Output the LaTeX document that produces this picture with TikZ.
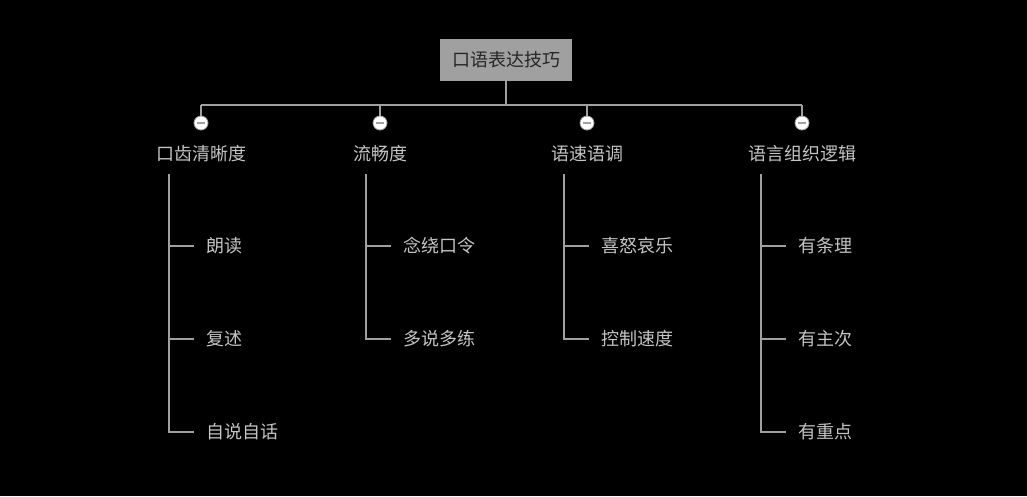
\documentclass[tikz,border=0pt]{standalone}
\usepackage{fontspec}
\newfontfamily\cjk{Noto Sans CJK SC}
\begin{document}
\begin{tikzpicture}[x=1pt,y=-1pt,
  ln/.style={draw=lg,line width=1.1pt},
  lbl/.style={text=tc,font=\cjk\fontsize{18}{21}\selectfont,inner sep=0pt},
  tog/.style={circle,draw=lg,fill=white,minimum size=14pt,inner sep=0pt,line width=0.8pt}]
\definecolor{lg}{HTML}{A0A0A0}
\definecolor{tc}{HTML}{C4C4C4}
\fill[black] (0,0) rectangle (1027,496);
\useasboundingbox (0,0) rectangle (1027,496);
\node[fill=lg,minimum width=132pt,minimum height=42pt,inner sep=0pt,font=\cjk\fontsize{18}{21}\selectfont,text=black!85] (root) at (506,60) {口语表达技巧};
\coordinate (bar) at (506,105);
\draw[ln] (root.south) -- (bar);
\draw[ln] (201,105) -- (802,105);
\foreach \n/\x/\t/\vx in {a/201/口齿清晰度/169,b/380/流畅度/366,c/587/语速语调/564,d/802/语言组织逻辑/761}{
  \coordinate (\n top) at (\x,105);
  \node[tog] (\n t) at (\x,123) {};
  \draw[ln] (\n top) -- (\n t.north);
  \draw[lg,line width=1.5pt] ([xshift=-4pt]\n t.center) -- ([xshift=4pt]\n t.center);
  \node[lbl] (\n) at (\x,154) {\t};
  \coordinate (\n v) at (\vx,174);
}
\foreach \p/\vx/\c/\y [count=\i] in {a/169/朗读/246,a/169/复述/339,a/169/自说自话/432,b/366/念绕口令/246,b/366/多说多练/339,c/564/喜怒哀乐/246,c/564/控制速度/339,d/761/有条理/246,d/761/有主次/339,d/761/有重点/432}{
  \node[lbl,anchor=west] (k\i) at (\vx+37,\y) {\c};
  \coordinate (h\i) at (\vx,\y);
  \draw[ln] (\p v) -- (h\i) -- ++(25,0);
}
\end{tikzpicture}
\end{document}
